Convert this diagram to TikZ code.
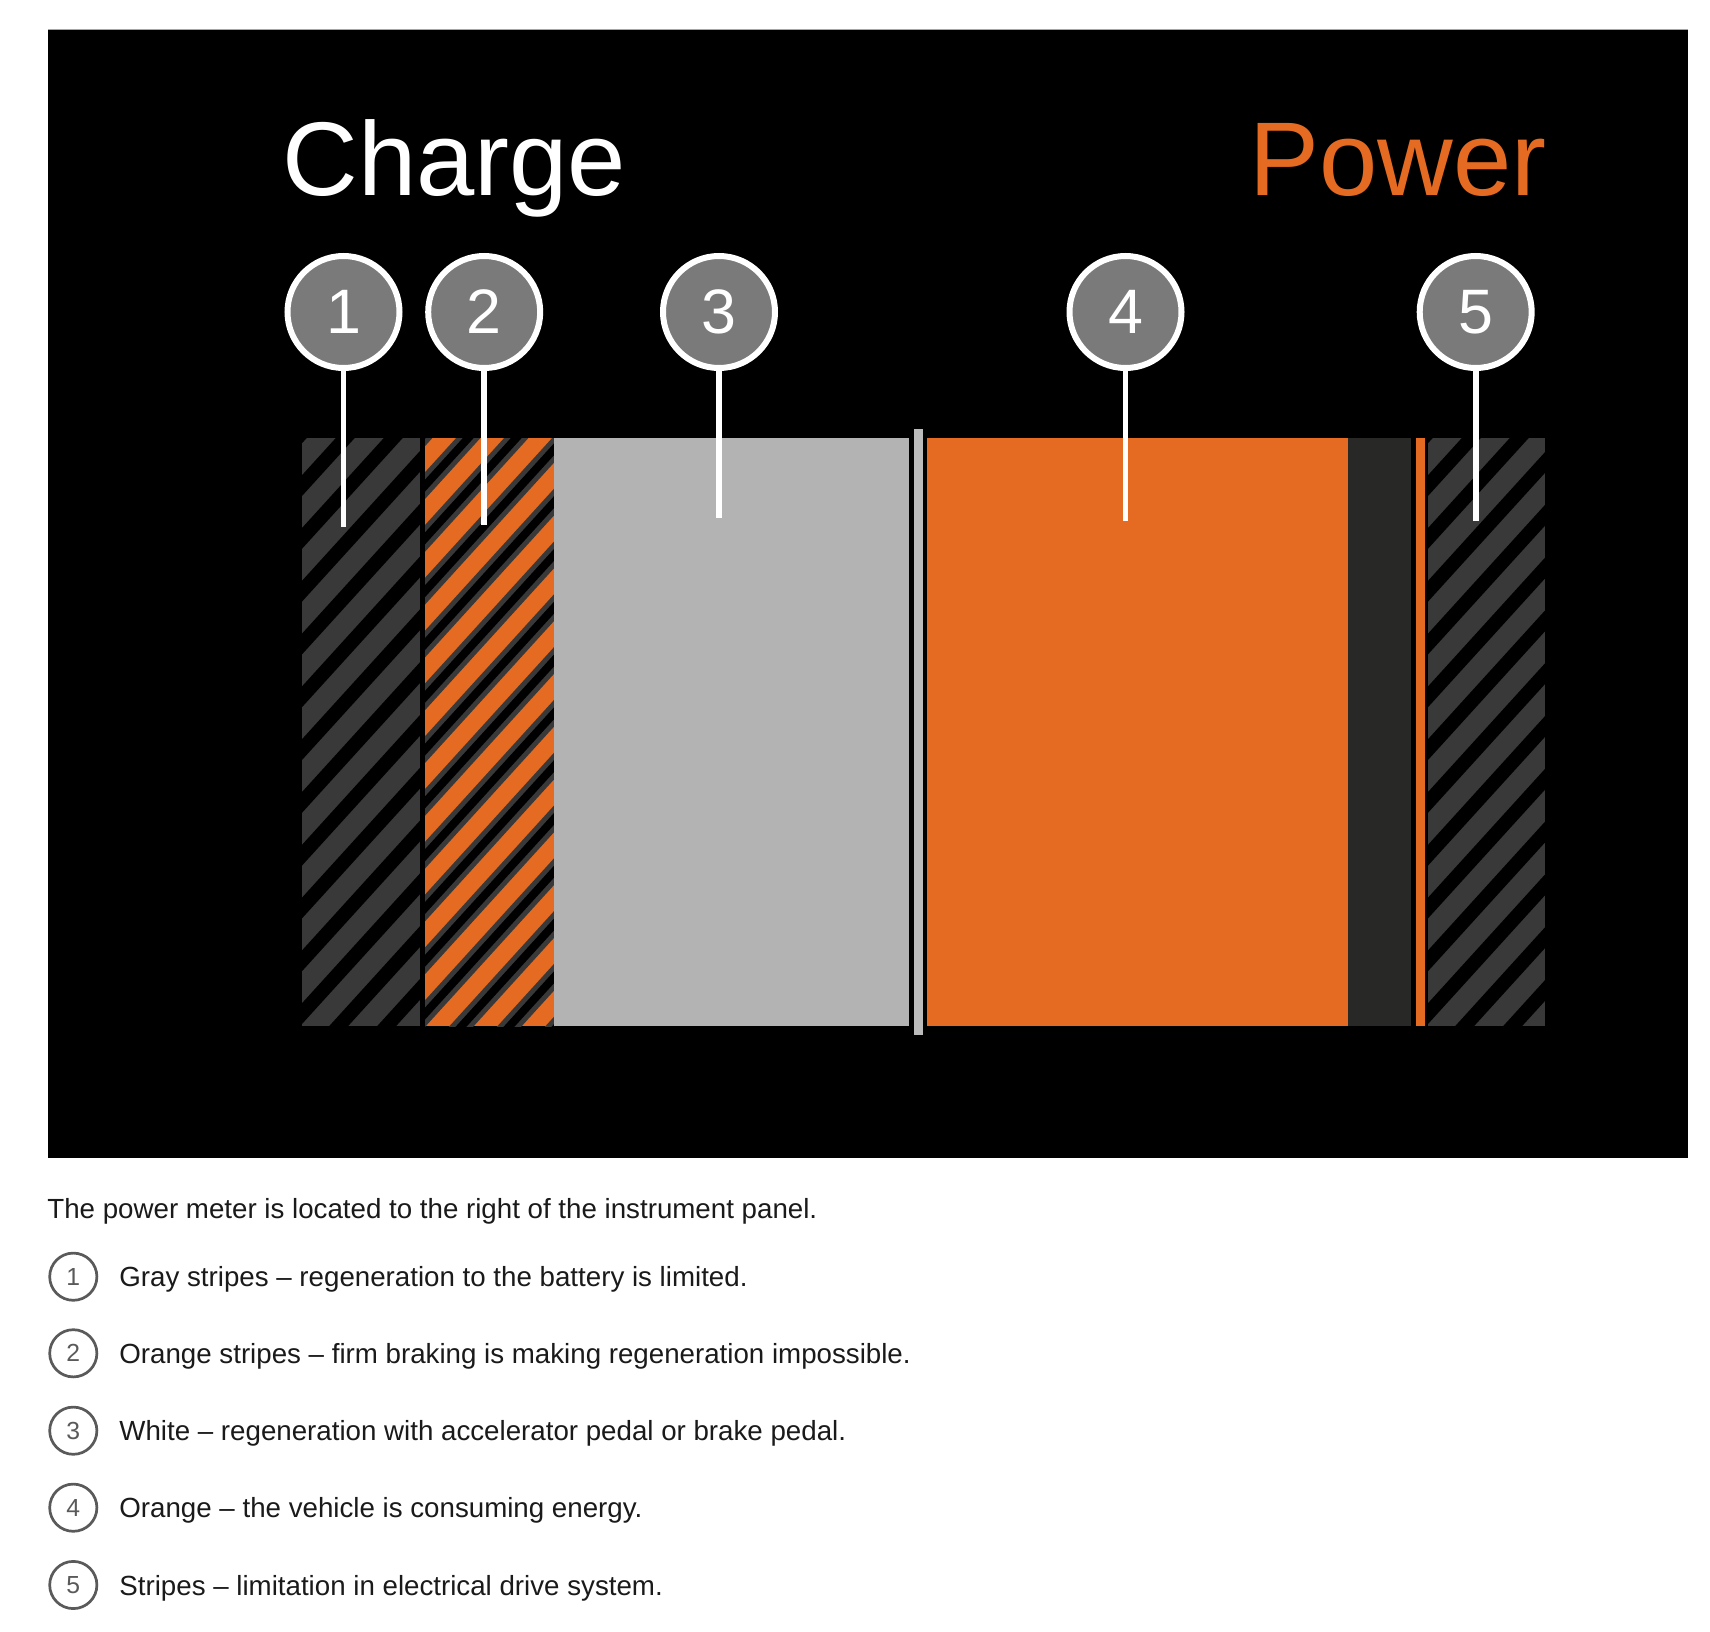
\documentclass[tikz,border=0pt]{standalone}
\usepackage{fontspec}
\setmainfont{Liberation Sans}
\usepackage{xcolor}
\definecolor{meterO}{HTML}{E66B22}
\definecolor{stripeG}{HTML}{393939}
\definecolor{lightG}{HTML}{B3B3B3}
\definecolor{darkG}{HTML}{282826}
\definecolor{badgeG}{HTML}{7A7A7A}
\definecolor{ringG}{HTML}{5A5A5A}
\definecolor{textK}{HTML}{1A1A1A}

\begin{document}
\begin{tikzpicture}[x=0.5pt,y=-0.5pt,
  badge/.style={circle,draw=white,line width=3pt,fill=badgeG,minimum size=56pt,inner sep=0pt,
    text=white,font=\fontsize{31.4}{31.4}\selectfont},
  pin/.style={white,line width=2.9pt},
  key/.style={circle,draw=ringG,line width=1.35pt,minimum size=23.6pt,inner sep=0pt,
    text=ringG,font=\fontsize{12.35}{12.35}\selectfont},
  body/.style={anchor=base west,inner sep=0pt,text=textK,font=\fontsize{13.85}{16}\selectfont},
  title/.style={anchor=base west,inner sep=0pt,font=\fontsize{52.4}{60}\selectfont}]
  \useasboundingbox (0,0) rectangle (1710,1632);
  \fill[white] (0,0) rectangle (1710,1632);

  % display panel
  \fill[black] (48,30) rectangle (1688,1158);
  \draw[gray!70,line width=0.5pt] (48,30) -- (1688,30);

  % striped segments
  \foreach \xa/\xb in {302/420,1428/1545}{
    \fill[stripeG] (\xa,438) rectangle (\xb,1026);
    \begin{scope}
      \clip (\xa,438) rectangle (\xb,1026);
      \foreach \k in {0,...,16}
        \draw[black,line width=7pt] ({\xa-600+\k*48},1040) -- ++(600,-660);
    \end{scope}
  }
  \fill[meterO] (425,438) rectangle (554,1026);
  \begin{scope}
    \clip (425,438) rectangle (554,1026);
    \foreach \k in {0,...,16}{
      \draw[stripeG,line width=9pt] ({425-600+\k*48},1040) -- ++(600,-660);
      \draw[black,line width=4pt] ({425-600+\k*48},1040) -- ++(600,-660);
    }
  \end{scope}

  % plain segments
  \fill[lightG] (554,438) rectangle (908.6,1026);
  \fill[lightG!90!white] (913.5,429) rectangle (922.5,1035);
  \fill[meterO] (927,438) rectangle (1348,1026);
  \fill[darkG] (1348,438) rectangle (1411,1026);
  \fill[meterO] (1415.6,438) rectangle (1424.7,1026);

  \node[title,text=white] (charge) at (282,196) {Charge};
  \node[title,text=meterO] (power) at (1249,196) {Power};

  % callouts
  \foreach \n/\x/\y in {1/343.5/527,2/484.2/525,3/719/518,4/1125.5/521,5/1475.7/521}{
    \node[badge] (b\n) at (\x,312) {\n};
    \coordinate (t\n) at (\x,\y);
    \draw[pin] (b\n) -- (t\n);
  }

  % legend
  \node[body] (intro) at (47,1218) {The power meter is located to the right of the instrument panel.};
  \foreach \n/\y/\txt in {1/1276.7/{Gray stripes – regeneration to the battery is limited.},
      2/1353.3/{Orange stripes – firm braking is making regeneration impossible.},
      3/1430.7/{White – regeneration with accelerator pedal or brake pedal.},
      4/1507.7/{Orange – the vehicle is consuming energy.},
      5/1585/{Stripes – limitation in electrical drive system.}}{
    \node[key] (k\n) at (73.3,\y) {\n};
    \node[body] (d\n) at (119,\y+10) {\txt};
  }
\end{tikzpicture}
\end{document}
